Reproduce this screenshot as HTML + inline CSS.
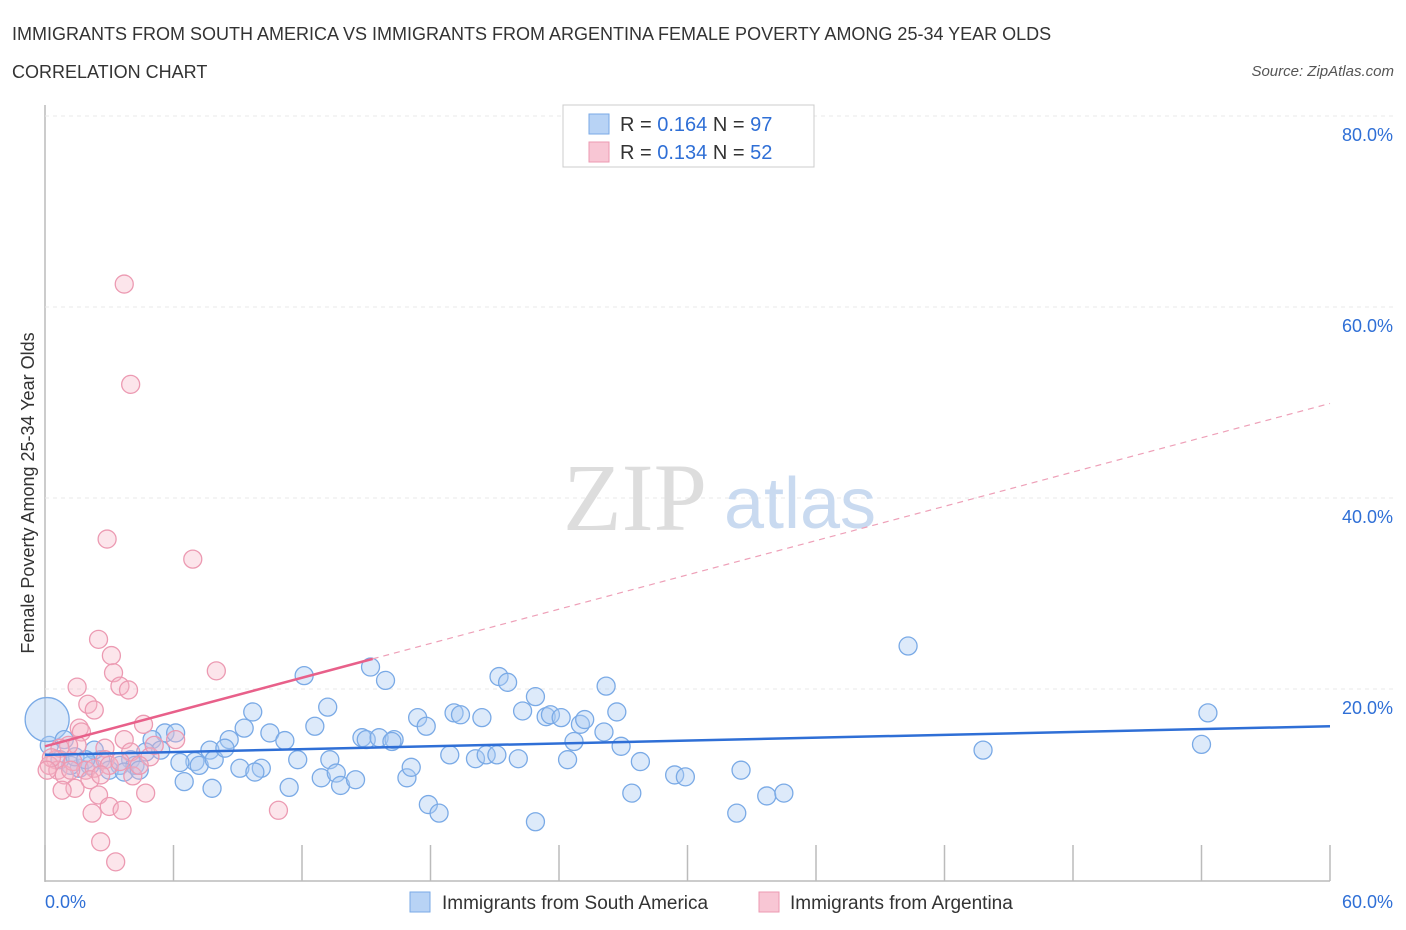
<!DOCTYPE html>
<html><head><meta charset="utf-8">
<style>
body{margin:0;background:#fff;font-family:"Liberation Sans",sans-serif;}
svg{display:block}
</style></head>
<body>
<svg id="chart" width="1406" height="930">
<text x="12" y="40" font-size="18" fill="#333">IMMIGRANTS FROM SOUTH AMERICA VS IMMIGRANTS FROM ARGENTINA FEMALE POVERTY AMONG 25-34 YEAR OLDS</text>
<text x="12" y="78" font-size="18" fill="#333">CORRELATION CHART</text>
<text x="1394" y="76" font-size="15" fill="#555" font-style="italic" text-anchor="end">Source: ZipAtlas.com</text>
<text x="0" y="0" font-size="18" fill="#333" text-anchor="middle" transform="translate(34,493) rotate(-90)">Female Poverty Among 25-34 Year Olds</text>
<g id="grid"></g>
<text x="635" y="530" font-size="96" fill="#ddd" font-family="Liberation Serif,serif" text-anchor="middle">ZIP</text>
<text x="800" y="528" font-size="72" fill="#c9daf0" text-anchor="middle">atlas</text>
<g id="pts"></g>
<g id="lines"></g>
<g>
<rect x="563" y="105" width="251" height="62" fill="#fff" stroke="#ccc"/>
<rect x="589" y="114" width="20" height="20" fill="#b8d3f5" stroke="#7aaae6"/>
<text x="620" y="131" font-size="20" fill="#333">R = <tspan fill="#2f6fd6">0.164</tspan>   N = <tspan fill="#2f6fd6">97</tspan></text>
<rect x="589" y="142" width="20" height="20" fill="#f8c6d4" stroke="#ec9ab2"/>
<text x="620" y="159" font-size="20" fill="#333">R = <tspan fill="#2f6fd6">0.134</tspan>   N = <tspan fill="#2f6fd6">52</tspan></text>
</g>
<g>
<rect x="410" y="892" width="20" height="20" fill="#b8d3f5" stroke="#7aaae6"/>
<text x="442" y="909" font-size="19" fill="#333">Immigrants from South America</text>
<rect x="759" y="892" width="20" height="20" fill="#f8c6d4" stroke="#ec9ab2"/>
<text x="790" y="909" font-size="19" fill="#333">Immigrants from Argentina</text>
</g>
<text x="45" y="908" font-size="18" fill="#2f6fd6">0.0%</text>
<text x="1393" y="908" font-size="18" fill="#2f6fd6" text-anchor="end">60.0%</text>
</svg>
<script>
const yTicks=[20,40,60,80];
const xTicks=[0,6,12,18,24,30,36,42,48,54,60];
const blueX=[12.1,15.2,15.9,13.2,12.6,9.7,10.5,11.2,9.3,8.6,5.6,6.1,5.0,5.4,7.7,7.0,7.2,6.3,9.1,10.1,9.8,7.9,8.4,6.5,7.8,11.4,11.8,13.3,12.9,13.6,13.8,14.5,14.8,15.0,15.6,16.3,16.2,16.9,17.1,17.4,17.8,19.1,19.4,20.4,17.9,18.4,18.9,20.1,20.6,21.1,22.1,21.2,21.6,22.3,22.9,23.4,23.6,24.1,25.0,25.2,24.7,24.4,22.9,26.2,26.7,26.1,26.9,27.4,27.8,29.4,29.9,32.3,32.5,33.7,34.5,40.3,43.8,54.0,54.3,4.7,4.0,3.5,4.2,2.6,2.1,1.6,1.2,0.7,3.0,2.3,1.4,0.2,3.7,4.4,0.1,0.9,1.9];
const blueY=[21.4,22.3,20.9,18.1,16.1,17.6,15.4,14.6,15.9,14.7,15.4,15.4,14.7,13.6,13.6,12.4,12.0,12.3,11.7,11.7,11.3,12.6,13.8,10.3,9.6,9.7,12.6,12.6,10.7,11.2,9.9,10.5,14.9,14.7,14.9,14.7,14.5,10.7,11.8,17.0,16.1,17.5,17.3,17.0,7.9,7.0,13.1,12.7,13.1,13.1,12.7,21.3,20.7,17.7,19.2,17.1,17.3,17.0,16.3,16.8,14.5,12.6,6.1,20.3,17.6,15.5,14.0,9.1,12.4,11.0,10.8,7.0,11.5,8.8,9.1,24.5,13.6,14.2,17.5,13.4,12.6,12.0,12.0,12.6,12.0,11.7,12.0,12.6,11.5,13.6,12.9,14.1,11.3,11.5,16.8,14.7,12.6];
const pinkX=[3.7,4.0,2.9,6.9,8.0,2.5,3.1,3.2,3.5,3.9,1.5,2.0,2.3,1.6,1.7,4.6,6.1,3.7,2.8,4.0,1.5,1.1,0.7,0.5,0.2,0.6,0.9,1.3,1.9,2.3,2.8,3.0,3.5,2.1,1.4,0.8,2.5,3.0,3.6,2.2,2.6,3.3,10.9,4.7,4.1,4.9,5.1,0.3,0.1,1.2,2.6,4.4];
const pinkY=[62.4,51.9,35.7,33.6,21.9,25.2,23.5,21.7,20.3,19.9,20.2,18.4,17.8,15.9,15.5,16.3,14.7,14.7,13.8,13.4,14.1,14.1,13.8,12.6,12.0,11.5,11.0,12.4,11.5,11.7,12.6,12.0,12.4,10.5,9.6,9.4,8.9,7.7,7.3,7.0,4.0,1.9,7.3,9.1,10.9,12.9,14.1,12.8,11.5,11.5,11.0,12.0];
const blueTrend=[13.1,16.1];
const pinkTrend=[14.0,49.9];
const pinkSolidEnd=15.3;

const NS="http://www.w3.org/2000/svg";
const X=v=>45+v*(1285/60);
const Y=v=>880-v*9.55;
function mk(tag,attrs,parent){const e=document.createElementNS(NS,tag);for(const k in attrs)e.setAttribute(k,attrs[k]);parent.appendChild(e);return e;}
const grid=document.getElementById('grid');
const ax=mk('line',{x1:45,y1:105,x2:45,y2:882,stroke:'#bbb','stroke-width':1.5},grid);


const bx=mk('line',{x1:45,y1:881,x2:1330,y2:881,stroke:'#bbb','stroke-width':1.5},grid);


yTicks.forEach(t=>{
  const l=mk('line',{x1:45,y1:Y(t),x2:1394,y2:Y(t),stroke:'#e8e8e8','stroke-dasharray':'4,4'},grid);
  
  
  const tx=mk('text',{x:1393,y:Y(t)+25,'font-size':18,fill:'#2f6fd6','text-anchor':'end'},grid);
  tx.textContent=t.toFixed(1)+'%';
  
  
});
xTicks.forEach(t=>{
  const l=mk('line',{x1:X(t),y1:845,x2:X(t),y2:881,stroke:'#bbb','stroke-width':1.5},grid);
  
  
});
const pts=document.getElementById('pts');
blueX.forEach((v,i)=>{
  const big=(i===blueX.length-3);
  const c=mk('circle',{cx:X(v),cy:Y(blueY[i]),r:big?22:9,fill:'rgba(170,202,242,0.4)',stroke:'#7aaae6','stroke-width':1.3},pts);
  
  
});
pinkX.forEach((v,i)=>{
  const c=mk('circle',{cx:X(v),cy:Y(pinkY[i]),r:9,fill:'rgba(246,180,198,0.35)',stroke:'#ec9ab2','stroke-width':1.3},pts);
  
  
});
const lines=document.getElementById('lines');
const pAt=x=>pinkTrend[0]+(pinkTrend[1]-pinkTrend[0])*x/60;
const bl=mk('line',{x1:X(0),y1:Y(blueTrend[0]),x2:X(60),y2:Y(blueTrend[1]),stroke:'#2f6fd6','stroke-width':2.5},lines);


const pl=mk('line',{x1:X(0),y1:Y(pAt(0)),x2:X(pinkSolidEnd),y2:Y(pAt(pinkSolidEnd)),stroke:'#e8608a','stroke-width':2.5},lines);


const pd=mk('line',{x1:X(pinkSolidEnd),y1:Y(pAt(pinkSolidEnd)),x2:X(60),y2:Y(pAt(60)),stroke:'#eea0b8','stroke-width':1.2,'stroke-dasharray':'6,5'},lines);


</script>
</body></html>
